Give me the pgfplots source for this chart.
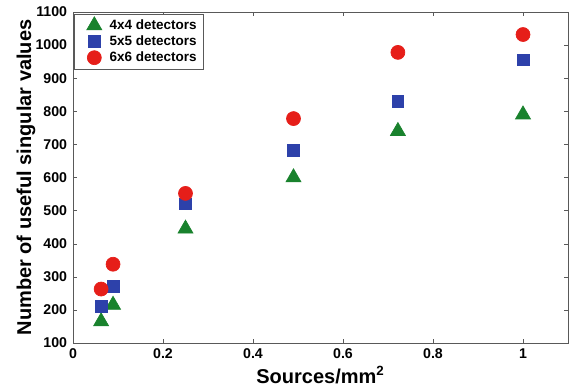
\documentclass[border=0pt]{standalone}
\usepackage{pgfplots}
\pgfplotsset{compat=1.18}
\usepackage{fontspec}
\setmainfont{Liberation Sans}
\definecolor{mgreen}{RGB}{25,130,45}
\definecolor{mblue}{RGB}{45,65,170}
\definecolor{mred}{RGB}{230,30,25}
\begin{document}
\begin{tikzpicture}
\begin{axis}[
  scale only axis,
  width=297pt, height=198.6pt,
  xmin=0, xmax=1.1, ymin=100, ymax=1100,
  xtick={0,0.2,0.4,0.6,0.8,1},
  ytick={100,200,...,1100},
  xticklabels={\textbf{0},\textbf{0.2},\textbf{0.4},\textbf{0.6},\textbf{0.8},\textbf{1}},
  yticklabels={\textbf{100},\textbf{200},\textbf{300},\textbf{400},\textbf{500},\textbf{600},\textbf{700},\textbf{800},\textbf{900},\textbf{1000},\textbf{1100}},
  tick label style={font=\fontsize{8.5}{10}\selectfont},
  tick align=inside,
  major tick length=2.5pt,
  axis line style={gray!70!black},
  tick style={gray!70!black},
  xlabel={\textbf{Sources/mm$^{\mathbf{2}}$}},
  ylabel={\textbf{Number of useful singular values}},
  every axis x label/.style={at={(axis description cs:0.5,-0.121)}, anchor=base, font=\fontsize{12}{14}\selectfont},
  every axis y label/.style={at={(axis description cs:-0.095,0.5)}, anchor=center, rotate=90, font=\fontsize{12}{14}\selectfont},
  legend style={font=\fontsize{8.1}{9.5}\selectfont\bfseries, draw=gray!70!black, inner xsep=2pt, inner ysep=1pt, row sep=-1.7pt, at={(0.003,0.994)}, anchor=north west},
  legend cell align=left,
  legend image code/.code={\path (0pt,0pt) (16.5pt,0pt); \draw[mark repeat=2,mark phase=2] plot coordinates {(0pt,0pt) (9.5pt,0pt) (16.5pt,0pt)};},
  every axis plot/.append style={only marks},
]
\addplot[mark=triangle*, mark size=5.2pt, color=mgreen, fill=mgreen] coordinates {
(0.0625,165) (0.089,215) (0.25,445) (0.49,600) (0.722,740) (1,790)};
\addlegendentry{4x4 detectors}
\addplot[mark=square*, mark size=3.5pt, color=mblue, fill=mblue] coordinates {
(0.0625,210) (0.089,272) (0.25,520) (0.49,683) (0.722,830) (1,955)};
\addlegendentry{5x5 detectors}
\addplot[mark=*, mark size=4.2pt, color=mred, fill=mred] coordinates {
(0.0625,263) (0.089,338) (0.25,552) (0.49,778) (0.722,978) (1,1032)};
\addlegendentry{6x6 detectors}
\end{axis}
\path (current axis.south west) ++(-43.8pt,-28.2pt);
\path (current axis.north east) ++(3.6pt,7.2pt);
\end{tikzpicture}
\end{document}
